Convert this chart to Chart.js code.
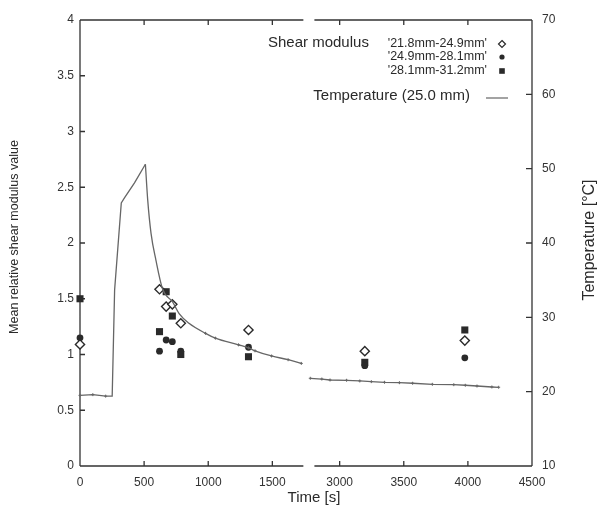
<!DOCTYPE html>
<html>
<head>
<meta charset="utf-8">
<script src="https://cdn.jsdelivr.net/npm/chart.js@4"></script>
<style>
  html, body { margin:0; padding:0; background:#fff; }
  #wrap { position:relative; width:602px; height:513px; }
</style>
</head>
<body>
<div id="wrap"><canvas id="chart"></canvas></div>
<script>
// shear modulus readings (s / mean relative value)
const shearTime = [0, 620, 672, 720, 786, 1314, 3196, 3976];
const shearA = [1.09, 1.585, 1.43, 1.45, 1.28, 1.22, 1.03, 1.125];   // '21.8mm-24.9mm'
const shearB = [1.15, 1.03, 1.13, 1.115, 1.03, 1.065, 0.90, 0.97];   // '24.9mm-28.1mm'
const shearC = [1.50, 1.205, 1.563, 1.345, 1.00, 0.98, 0.93, 1.22];  // '28.1mm-31.2mm'

// temperature at 25.0 mm
const tempTime = [0, 100, 200, 251, 270, 322, 348, 425, 510, 528, 554, 592, 644, 721, 773, 850,
  979, 1056, 1236, 1314, 1365, 1494, 1623, 1726,
  2771, 2861, 2925, 3054, 3157, 3247, 3350, 3466, 3569, 3723, 3890, 3980, 4071, 4187, 4240];
const tempValue = [19.5, 19.6, 19.4, 19.4, 33.7, 45.4, 46.1, 48.1, 50.6, 45.8, 41.3, 37.7, 33.8, 32.1, 30.5, 29.2,
  27.85, 27.2, 26.3, 25.9, 25.5, 24.8, 24.3, 23.8,
  21.8, 21.7, 21.57, 21.53, 21.44, 21.35, 21.26, 21.21, 21.13, 20.99, 20.94, 20.86, 20.76, 20.63, 20.59];

const xTickLabels = [0, 500, 1000, 1500, 3000, 3500, 4000, 4500];
const yTicks = [0, 0.5, 1, 1.5, 2, 2.5, 3, 3.5, 4];
const y2Ticks = [10, 20, 30, 40, 50, 60, 70];
const seriesNames = ["'21.8mm-24.9mm'", "'24.9mm-28.1mm'", "'28.1mm-31.2mm'"];

// broken time axis: 1750..2725 s is cut out
const BREAK_AT = 1750, BREAK_SHIFT = 975;
const toAxis = t => t > BREAK_AT ? t - BREAK_SHIFT : t;
const PEAK_T = 510;

const pts = (ts, vs) => ts.map((t, i) => ({ x: toAxis(t), y: vs[i] }));
const tempPart = (from, to) => {
  const out = [];
  tempTime.forEach((t, i) => { if (t >= from && t <= to) out.push({ x: toAxis(t), y: tempValue[i] }); });
  return out;
};
const heating = tempPart(0, PEAK_T);
const cooling = tempPart(PEAK_T, BREAK_AT);
const lateTemp = tempPart(BREAK_AT, 5000);

const INK = '#2a2a2a';
const LINE = '#666';
const FONT = '"Liberation Sans", Arial, sans-serif';

const frame = {
  id: 'frame',
  beforeDatasetsDraw(chart) {
    const { ctx, chartArea: a, scales } = chart;
    const g1 = scales.x.getPixelForValue(1742), g2 = scales.x.getPixelForValue(1828);
    ctx.save();
    ctx.strokeStyle = '#333'; ctx.lineWidth = 1.3;
    ctx.beginPath();
    ctx.moveTo(a.left, a.top); ctx.lineTo(a.left, a.bottom);
    ctx.moveTo(a.right, a.top); ctx.lineTo(a.right, a.bottom);
    [a.top, a.bottom].forEach(y => {
      ctx.moveTo(a.left, y); ctx.lineTo(g1, y);
      ctx.moveTo(g2, y); ctx.lineTo(a.right, y);
    });
    // inward ticks
    xTickLabels.forEach(v => {
      const px = scales.x.getPixelForValue(toAxis(v));
      ctx.moveTo(px, a.bottom); ctx.lineTo(px, a.bottom - 5);
      ctx.moveTo(px, a.top); ctx.lineTo(px, a.top + 5);
    });
    yTicks.forEach(v => {
      const py = scales.y.getPixelForValue(v);
      ctx.moveTo(a.left, py); ctx.lineTo(a.left + 5, py);
    });
    y2Ticks.forEach(v => {
      const py = scales.y2.getPixelForValue(v);
      ctx.moveTo(a.right, py); ctx.lineTo(a.right - 6, py);
    });
    ctx.stroke();
    ctx.restore();
  },
  afterDraw(chart) {
    const { ctx } = chart;
    ctx.save();
    ctx.fillStyle = INK;
    ctx.textBaseline = 'middle';

    // axis titles
    ctx.textAlign = 'center';
    ctx.font = '15px ' + FONT;
    ctx.fillText('Time [s]', 314, 498);
    ctx.save();
    ctx.translate(15, 237); ctx.rotate(-Math.PI / 2);
    ctx.font = '12.5px ' + FONT;
    ctx.fillText('Mean relative shear modulus value', 0, 0);
    ctx.restore();
    ctx.save();
    ctx.translate(590, 240); ctx.rotate(-Math.PI / 2);
    ctx.font = '16px ' + FONT;
    ctx.fillText('Temperature [\u00B0C]', 0, 0);
    ctx.restore();

    // legend
    ctx.textAlign = 'left';
    ctx.font = '15px ' + FONT;
    ctx.fillText('Shear modulus', 268, 43);
    ctx.textAlign = 'right';
    ctx.font = '12.5px ' + FONT;
    const rows = [44, 57, 71];
    seriesNames.forEach((s, i) => ctx.fillText(s, 487, rows[i]));
    ctx.font = '15px ' + FONT;
    ctx.fillText('Temperature (25.0 mm)', 470, 96);

    const mx = 502;
    ctx.strokeStyle = INK; ctx.lineWidth = 1.2;
    ctx.beginPath();
    ctx.moveTo(mx, rows[0] - 3.5); ctx.lineTo(mx + 3.5, rows[0]);
    ctx.lineTo(mx, rows[0] + 3.5); ctx.lineTo(mx - 3.5, rows[0]); ctx.closePath();
    ctx.fillStyle = '#fff'; ctx.fill(); ctx.stroke();
    ctx.fillStyle = INK;
    ctx.beginPath(); ctx.arc(mx, rows[1], 2.6, 0, Math.PI * 2); ctx.fill();
    ctx.fillRect(mx - 2.8, rows[2] - 2.8, 5.6, 5.6);
    ctx.strokeStyle = LINE;
    ctx.beginPath(); ctx.moveTo(486, 98); ctx.lineTo(508, 98); ctx.stroke();
    ctx.restore();
  }
};

const tempStyle = {
  yAxisID: 'y2', showLine: true, borderColor: LINE, borderWidth: 1.3,
  pointStyle: 'cross', pointBorderColor: LINE, pointBorderWidth: 1, clip: false
};

new Chart(document.getElementById('chart'), {
  type: 'scatter',
  data: {
    datasets: [
      { ...tempStyle, label: 'heating', data: heating,
        pointRadius: heating.map(p => (p.x <= 200 ? 1.5 : 0)) },
      { ...tempStyle, label: 'cooling', data: cooling, cubicInterpolationMode: 'monotone',
        pointRadius: cooling.map(p => (p.x >= 900 ? 1.5 : 0)) },
      { ...tempStyle, label: 'late', data: lateTemp, pointRadius: 1.5 },
      { label: seriesNames[0], data: pts(shearTime, shearA), yAxisID: 'y', pointStyle: 'rectRot',
        pointRadius: 4.6, backgroundColor: '#fff', borderColor: INK, borderWidth: 1.4, clip: false },
      { label: seriesNames[1], data: pts(shearTime, shearB), yAxisID: 'y', pointStyle: 'circle',
        pointRadius: 3.4, backgroundColor: INK, borderColor: INK, borderWidth: 0, clip: false },
      { label: seriesNames[2], data: pts(shearTime, shearC), yAxisID: 'y', pointStyle: 'rect',
        pointRadius: 5, backgroundColor: INK, borderColor: INK, borderWidth: 0, clip: false }
    ]
  },
  options: {
    responsive: true, maintainAspectRatio: false, animation: false, events: [],
    layout: { padding: { top: 20, left: 0, right: 0, bottom: 0 } },
    plugins: { legend: { display: false }, tooltip: { enabled: false } },
    scales: {
      x: {
        type: 'linear', min: 0, max: toAxis(4500),
        grid: { display: false, drawTicks: false }, border: { display: false },
        afterBuildTicks: s => { s.ticks = xTickLabels.map(v => ({ value: toAxis(v) })); },
        afterFit: s => { s.height = 47; },
        ticks: { padding: 9, color: '#333', font: { size: 12, family: FONT },
          callback: (v, i) => String(xTickLabels[i]) }
      },
      y: {
        position: 'left', min: 0, max: 4,
        grid: { display: false, drawTicks: false }, border: { display: false },
        afterBuildTicks: s => { s.ticks = yTicks.map(v => ({ value: v })); },
        afterFit: s => { s.width = 80; },
        ticks: { padding: 6, color: '#333', font: { size: 12, family: FONT }, callback: v => String(v) }
      },
      y2: {
        position: 'right', min: 10, max: 70,
        grid: { display: false, drawTicks: false }, border: { display: false },
        afterBuildTicks: s => { s.ticks = y2Ticks.map(v => ({ value: v })); },
        afterFit: s => { s.width = 70; },
        ticks: { padding: 10, color: '#333', font: { size: 12, family: FONT }, callback: v => String(v) }
      }
    }
  },
  plugins: [frame]
});
</script>
</body>
</html>
